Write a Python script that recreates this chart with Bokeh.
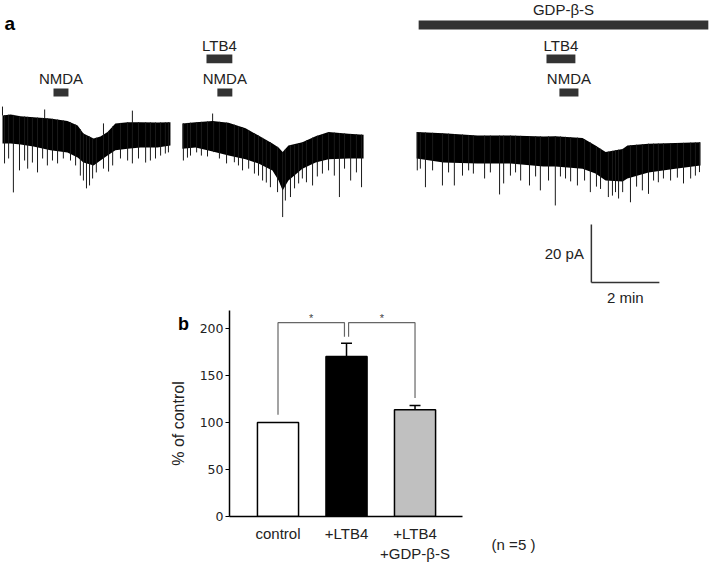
import numpy as np
from bokeh.plotting import figure
from bokeh.layouts import column, row
from bokeh.models import Range1d, FixedTicker
from bokeh.core.properties import value
from bokeh.embed import file_html
from bokeh.resources import INLINE

# ---------------- panel a : current traces (time in min, current in pA) -------------
t1 = [0.00, 0.24, 0.53, 0.91, 1.41, 1.91, 2.21, 2.38, 2.68, 2.88, 3.09, 3.32, 3.68, 4.06, 4.56, 4.94]
top1 = [1.7, 2.1, 1.5, 1.1, 0.7, -0.2, -1.7, -4.5, -6.2, -5.5, -4.0, -1.0, -0.6, -0.6, -0.7, -0.6]
bot1 = [-7.9, -7.9, -8.3, -9.0, -10.3, -11.0, -12.8, -14.5, -15.5, -13.8, -12.1, -10.3, -9.7, -9.3, -9.3, -8.6]
spk1_t = [0.06, 0.18, 0.32, 0.50, 0.65, 0.74, 0.88, 1.03, 1.18, 1.32, 1.47, 1.62, 1.79, 2.00, 2.15, 2.29, 2.38,
          2.47, 2.56, 2.65, 2.76, 2.97, 3.12, 3.24, 3.47, 3.68, 3.82, 4.00, 4.21, 4.35, 4.50, 4.65, 4.79, 4.88]
spk1_i = [-14.8, -13.1, -24.8, -17.2, -13.8, -16.6, -14.5, -17.9, -13.1, -15.5, -13.8, -14.8, -13.1, -13.8, -15.5,
          -19.0, -20.7, -23.4, -22.4, -20.0, -17.9, -16.6, -17.6, -15.5, -13.1, -13.8, -14.8, -13.1, -14.5, -13.8,
          -13.1, -12.1, -11.4, -11.0]
up1_t = [0.00, 1.24, 2.97, 3.82]
up1_i = [4.8, 3.8, -1.0, 3.4]

t2 = [5.29, 5.68, 6.18, 6.65, 7.15, 7.53, 7.94, 8.12, 8.24, 8.41, 8.82, 9.21, 9.59, 10.18, 10.62]
top2 = [-1.0, -0.6, -0.2, -0.8, -2.7, -5.2, -7.9, -9.3, -10.9, -8.6, -7.5, -5.4, -4.0, -4.6, -4.9]
bot2 = [-9.7, -9.3, -10.7, -12.1, -13.4, -14.8, -17.2, -20.7, -24.1, -20.7, -16.6, -14.5, -13.4, -13.1, -13.1]
spk2_t = [5.32, 5.44, 5.53, 5.71, 5.85, 6.03, 6.21, 6.38, 6.59, 6.82, 6.94, 7.06, 7.24, 7.41, 7.53, 7.65, 7.76,
          7.88, 8.09, 8.24, 8.32, 8.47, 8.59, 8.71, 8.82, 8.94, 9.12, 9.26, 9.41, 9.59, 9.76, 9.91, 10.06, 10.24,
          10.41, 10.56]
spk2_i = [-13.8, -12.8, -12.1, -11.0, -12.1, -12.4, -10.9, -13.1, -14.8, -14.4, -15.5, -17.2, -16.6, -18.3, -19.0,
          -20.7, -21.4, -23.0, -24.7, -33.3, -27.6, -26.4, -23.4, -21.7, -20.0, -21.3, -22.4, -19.3, -18.3, -17.2,
          -19.0, -26.4, -16.6, -20.7, -17.9, -23.0]
up2_t = [6.18]
up2_i = [2.4]

t3 = [12.18, 12.97, 13.97, 14.94, 15.91, 16.26, 17.06, 17.44, 17.74, 18.24, 18.38, 19.00, 19.79, 20.53]
top3 = [-4.0, -4.4, -5.2, -5.2, -5.5, -5.4, -6.0, -8.6, -10.9, -9.8, -8.6, -8.0, -7.8, -7.5]
bot3 = [-13.1, -14.5, -14.8, -14.8, -15.9, -15.9, -16.6, -18.3, -20.7, -21.0, -20.0, -17.9, -16.6, -15.5]
spk3_t = [12.20, 12.29, 12.44, 12.65, 12.94, 13.12, 13.29, 13.53, 13.71, 13.85, 14.18, 14.35, 14.62, 14.74, 14.94,
          15.09, 15.24, 15.50, 15.68, 15.82, 16.06, 16.26, 16.41, 16.56, 16.71, 16.91, 17.12, 17.29, 17.47, 17.59,
          17.82, 17.94, 18.03, 18.12, 18.24, 18.47, 18.65, 18.82, 19.00, 19.15, 19.29, 19.44, 19.65, 19.85, 20.03,
          20.24, 20.38, 20.50]
spk3_i = [-17.2, -16.6, -23.0, -17.2, -22.4, -17.9, -22.4, -19.0, -17.2, -18.3, -20.0, -17.9, -25.5, -21.7, -19.0,
          -17.9, -20.7, -22.4, -19.3, -24.1, -20.7, -29.3, -19.3, -20.0, -21.0, -22.4, -20.7, -24.7, -22.8, -23.6,
          -26.4, -25.9, -24.7, -26.9, -24.7, -28.2, -22.8, -24.1, -25.3, -20.7, -21.3, -20.0, -20.7, -19.7, -21.7,
          -20.0, -19.0, -17.8]

# drug applications (min)
nmda_on = [1.50, 6.32, 16.38]
nmda_off = [1.94, 6.76, 16.94]
ltb4_on = [6.00, 16.00]
ltb4_off = [6.76, 16.85]
gdp_on = [12.24]
gdp_off = [20.76]

# scale bar
sb_pA = 20
sb_min = 2

# ---------------- panel b : bar chart -------------
groups = [1, 2, 3]
group_labels = ["control", "+LTB4", "+LTB4\n+GDP-\u03b2-S"]
pct = [100, 170, 113.5]
sem = [0, 14, 4.5]
bar_colors = ["white", "black", "#c0c0c0"]
y_ticks = [0, 50, 100, 150, 200]
n_cells = 5
# significance brackets: left x, right x, left leg bottom, right leg bottom, top
br_x0 = [1.0, 2.03]
br_x1 = [1.97, 3.0]
br_lo0 = [108, 191]
br_lo1 = [191, 126]
br_top = [206, 206]

TXT = "#222222"
FA = value("Liberation Sans")


def blank(w, h):
    f = figure(width=w, height=h, x_range=Range1d(0, w), y_range=Range1d(h, 0),
               output_backend="svg", toolbar_location=None, min_border=0,
               x_axis_location=None, y_axis_location=None)
    f.grid.visible = False
    f.outline_line_color = None
    f.frame_align = False
    return f


# ======== panel a ========
pa = figure(width=710, height=308, x_range=Range1d(-0.0588, 20.824), y_range=Range1d(-64.83, 41.38),
            output_backend="svg", toolbar_location=None, min_border=0,
            x_axis_location=None, y_axis_location=None)
pa.grid.visible = False
pa.outline_line_color = None
pa.frame_align = False

for t, tp, bt, st, si in [(t1, top1, bot1, spk1_t, spk1_i), (t2, top2, bot2, spk2_t, spk2_i),
                          (t3, top3, bot3, spk3_t, spk3_i)]:
    pa.varea(x=t, y1=bt, y2=tp, fill_color="black")
    y0 = np.interp(st, t, tp)
    pa.segment(x0=st, y0=y0, x1=st, y1=si, line_color="#1a1a1a", line_width=1)

for t, tp, ut, ui in [(t1, top1, up1_t, up1_i), (t2, top2, up2_t, up2_i)]:
    y0 = np.interp(ut, t, tp)
    pa.segment(x0=ut, y0=y0, x1=ut, y1=ui, line_color="#1a1a1a", line_width=1)

BAR = "#333333"
pa.quad(left=nmda_on, right=nmda_off, bottom=8.3, top=11.0, fill_color=BAR, line_color=None)
pa.quad(left=ltb4_on, right=ltb4_off, bottom=19.7, top=22.8, fill_color=BAR, line_color=None)
pa.quad(left=gdp_on, right=gdp_off, bottom=31.4, top=34.5, fill_color=BAR, line_color=None)

nm_c = [(a + b) / 2 for a, b in zip(nmda_on, nmda_off)]
lt_c = [(a + b) / 2 for a, b in zip(ltb4_on, ltb4_off)]
gd_c = [(a + b) / 2 for a, b in zip(gdp_on, gdp_off)]
pa.text(x=nm_c, y=[14.5] * len(nm_c), text=["NMDA"] * len(nm_c), text_align="center",
        text_baseline="middle", text_font=FA, text_font_size="15px", text_color=TXT)
pa.text(x=lt_c, y=[25.9] * len(lt_c), text=["LTB4"] * len(lt_c), text_align="center",
        text_baseline="middle", text_font=FA, text_font_size="15px", text_color=TXT)
pa.text(x=gd_c, y=[38.4], text=["GDP-\u03b2-S"], text_align="center",
        text_baseline="middle", text_font=FA, text_font_size="15px", text_color=TXT)
pa.text(x=[0.06], y=[33.4], text=["a"], text_align="left", text_baseline="middle", text_font=FA,
        text_font_size="19px", text_font_style="bold", text_color="black")

# scale bar
sb_t0, sb_i0 = 17.32, -55.86
pa.segment(x0=[sb_t0, sb_t0], y0=[sb_i0, sb_i0], x1=[sb_t0, sb_t0 + sb_min], y1=[sb_i0 + sb_pA, sb_i0],
           line_color="#333333", line_width=1.5)
pa.text(x=[sb_t0 - 0.22], y=[sb_i0 + sb_pA / 2], text=["%d pA" % sb_pA], text_align="right",
        text_baseline="middle", text_font=FA, text_font_size="15px", text_color=TXT)
pa.text(x=[sb_t0 + sb_min / 2], y=[sb_i0 - 5.2], text=["%d min" % sb_min], text_align="center",
        text_baseline="middle", text_font=FA, text_font_size="15px", text_color=TXT)

# ======== panel b ========
H = 256
pl = blank(192, H)
pl.text(x=[183], y=[15], text=["b"], text_align="center", text_baseline="middle", text_font=FA,
        text_font_size="18px", text_font_style="bold", text_color="black")
pl.text(x=[178], y=[115], text=["% of control"], angle=np.pi / 2, text_align="center",
        text_baseline="middle", text_font=FA, text_font_size="16px", text_color=TXT)

pb = figure(width=278, height=H, x_range=Range1d(0.292, 3.693), y_range=Range1d(0, 218.9),
            output_backend="svg", toolbar_location=None,
            min_border_left=37, min_border_right=8, min_border_top=2, min_border_bottom=46)
pb.grid.visible = False
pb.outline_line_color = None
pb.frame_align = False

pb.vbar(x=groups, top=pct, width=0.6, bottom=0, fill_color=bar_colors, line_color="black", line_width=1.5)
# error bars (upward only)
err_g = [g for g, s in zip(groups, sem) if s > 0]
err_lo = [m for m, s in zip(pct, sem) if s > 0]
err_hi = [m + s for m, s in zip(pct, sem) if s > 0]
pb.segment(x0=err_g, y0=err_lo, x1=err_g, y1=err_hi, line_color="black", line_width=1.5)
pb.segment(x0=[g - 0.08 for g in err_g], y0=err_hi, x1=[g + 0.08 for g in err_g], y1=err_hi,
           line_color="black", line_width=1.5)

# significance brackets
xs = [[a, a, b, b] for a, b in zip(br_x0, br_x1)]
ys = [[l0, tp, tp, l1] for l0, l1, tp in zip(br_lo0, br_lo1, br_top)]
pb.multi_line(xs=xs, ys=ys, line_color="#666666", line_width=1.2)
pb.text(x=[(a + b) / 2 for a, b in zip(br_x0, br_x1)], y=[t + 5 for t in br_top], text=["*"] * 2,
        text_align="center", text_baseline="middle", text_font=FA, text_font_size="11px", text_color="#444444")

yax = pb.yaxis[0]
yax.ticker = FixedTicker(ticks=y_ticks)
yax.major_label_text_font = "DejaVu Sans"
yax.major_label_text_font_size = "12.5px"
yax.major_label_text_color = TXT
yax.major_label_standoff = 2
yax.major_tick_out = 4
yax.major_tick_in = 0
yax.minor_tick_out = 0
yax.minor_tick_in = 0
yax.axis_line_width = 1.5
yax.major_tick_line_width = 1.2

xax = pb.xaxis[0]
xax.ticker = FixedTicker(ticks=groups)
xax.major_label_overrides = {g: lab for g, lab in zip(groups, group_labels)}
xax.major_label_text_font = "Liberation Sans"
xax.major_label_text_font_size = "15px"
xax.major_label_text_color = TXT
xax.major_label_standoff = 8
xax.major_tick_out = 0
xax.major_tick_in = 0
xax.minor_tick_out = 0
xax.minor_tick_in = 0
xax.axis_line_width = 1.5

pr = blank(240, H)
pr.text(x=[43], y=[236], text=["(n =%d )" % n_cells], text_align="center", text_baseline="middle",
        text_font=FA, text_font_size="15px", text_color=TXT)

layout = column(pa, row(pl, pb, pr, spacing=0), spacing=0)
open("out.html", "w").write(file_html(layout, INLINE))
